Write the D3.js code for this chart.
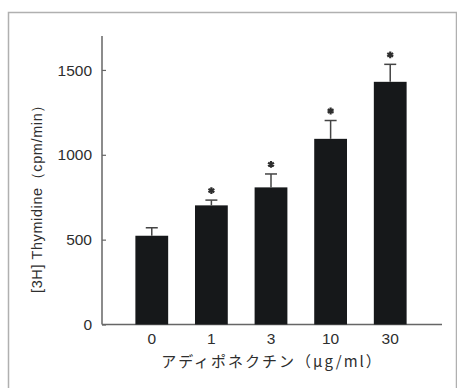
<!DOCTYPE html>
<html>
<head>
<meta charset="utf-8">
<script src="https://cdn.jsdelivr.net/npm/d3@7"></script>
<style>
  html, body { margin: 0; padding: 0; background: #fff; }
  svg { display: block; }
  text { fill: #2e2e2e; }
</style>
</head>
<body>
<svg id="chart" width="457" height="388"></svg>
<script>
// Adiponectin dose vs. [3H] thymidine uptake (mean + SE)
const categories = ["0", "1", "3", "10", "30"];
const means = [523, 702, 808, 1094, 1430];
const errors = [47, 31, 79, 108, 103];
const significant = [false, true, true, true, true];
const yTicks = [0, 500, 1000, 1500];
const xTitle = "アディポネクチン（μg/ml）";
const yTitle = "[3H] Thymidine（cpm/min）";

const svg = d3.select("#chart");
const latin = "'Liberation Sans', Arial, Helvetica, sans-serif";
const cjk = "'Noto Sans CJK JP', 'Noto Sans', sans-serif";

// Frame around the figure
svg.append("path")
  .attr("d", "M8.5,388 V12.5 H456.5 V388")
  .attr("fill", "none")
  .attr("stroke", "#b0b0b0")
  .attr("stroke-width", 1.5);

const x0 = 102, x1 = 442, yBase = 324.5, yTop = 36;

const y = d3.scaleLinear().domain([0, 1700]).range([yBase, yTop]);
const x = d3.scaleBand().domain(categories).range([x0, 440])
  .paddingInner(0.45).paddingOuter(0.56);

// Y axis with inward ticks
const yAxis = svg.append("g")
  .attr("transform", `translate(${x0},0)`)
  .call(d3.axisRight(y).tickValues(yTicks).tickSize(4).tickFormat(() => ""));
yAxis.select(".domain").remove();
yAxis.selectAll(".tick line").attr("stroke", "#666").attr("stroke-width", 1.2);

svg.append("line")
  .attr("x1", x0).attr("x2", x0).attr("y1", yTop).attr("y2", yBase)
  .attr("stroke", "#666").attr("stroke-width", 1.5);

svg.append("g").selectAll("text").data(yTicks).join("text")
  .attr("x", x0 - 10)
  .attr("y", d => y(d))
  .attr("dy", "0.36em")
  .attr("text-anchor", "end")
  .attr("font-family", latin)
  .attr("font-size", 15.5)
  .text(d => d);

// X axis baseline
svg.append("line")
  .attr("x1", x0).attr("x2", x1).attr("y1", yBase).attr("y2", yBase)
  .attr("stroke", "#666").attr("stroke-width", 1.5);

svg.append("g").selectAll("text").data(categories).join("text")
  .attr("x", d => x(d) + x.bandwidth() / 2)
  .attr("y", yBase + 19)
  .attr("text-anchor", "middle")
  .attr("font-family", latin)
  .attr("font-size", 15.5)
  .text(d => d);

// Bars
const rows = categories.map((c, i) => ({ c, m: means[i], e: errors[i], s: significant[i] }));

svg.append("g").selectAll("rect").data(rows).join("rect")
  .attr("x", d => x(d.c))
  .attr("y", d => y(d.m))
  .attr("width", x.bandwidth())
  .attr("height", d => y(0) - y(d.m))
  .attr("fill", "#16181a");

// Upper error bars
const err = svg.append("g").attr("stroke", "#444").attr("stroke-width", 1.5);
err.selectAll("line.v").data(rows).join("line").attr("class", "v")
  .attr("x1", d => x(d.c) + x.bandwidth() / 2)
  .attr("x2", d => x(d.c) + x.bandwidth() / 2)
  .attr("y1", d => y(d.m))
  .attr("y2", d => y(d.m + d.e));
err.selectAll("line.h").data(rows).join("line").attr("class", "h")
  .attr("x1", d => x(d.c) + x.bandwidth() / 2 - 6)
  .attr("x2", d => x(d.c) + x.bandwidth() / 2 + 6)
  .attr("y1", d => y(d.m + d.e))
  .attr("y2", d => y(d.m + d.e));

// Significance markers
svg.append("g").selectAll("path").data(rows.filter(d => d.s)).join("path")
  .attr("transform", d => `translate(${x(d.c) + x.bandwidth() / 2},${y(d.m + d.e) - 9.5})`)
  .attr("d", d3.symbol(d3.symbolAsterisk, 32))
  .attr("fill", "none")
  .attr("stroke", "#2e2e2e")
  .attr("stroke-width", 2.2);

// Axis titles
svg.append("text")
  .attr("x", 272)
  .attr("y", 367)
  .attr("text-anchor", "middle")
  .attr("font-family", cjk)
  .attr("font-size", 15)
  .attr("letter-spacing", 2)
  .text(xTitle);

svg.append("text")
  .attr("transform", "translate(42,195) rotate(-90)")
  .attr("text-anchor", "middle")
  .attr("font-family", latin)
  .attr("font-size", 14.5)
  .attr("letter-spacing", 0.6)
  .text(yTitle);
</script>
</body>
</html>
